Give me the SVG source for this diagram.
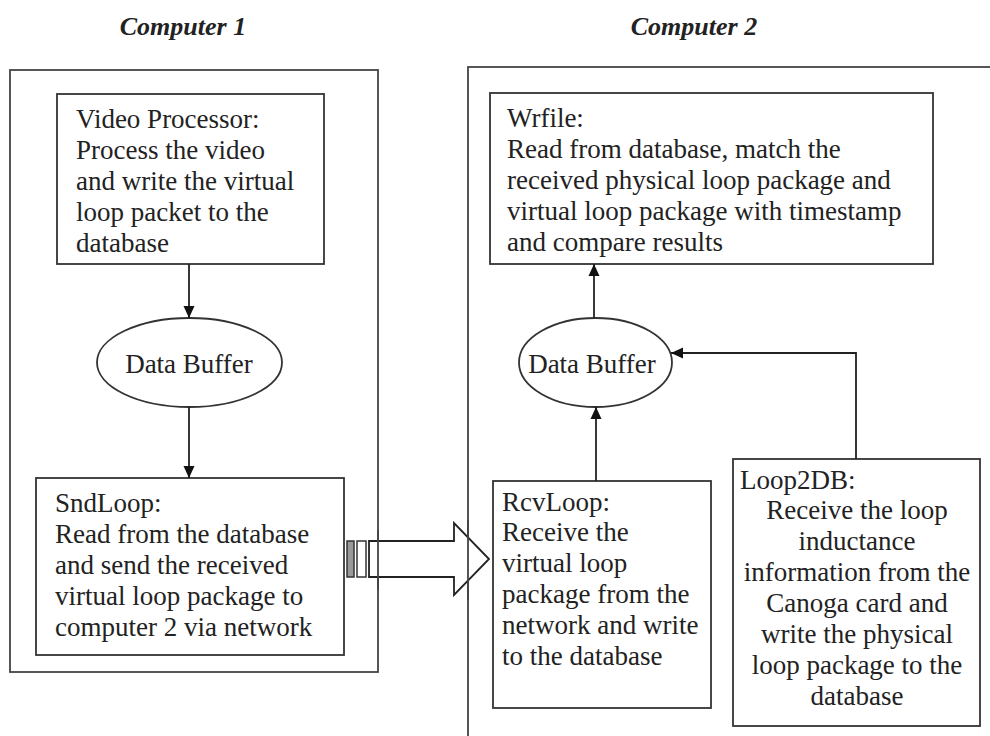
<svg xmlns="http://www.w3.org/2000/svg" width="990" height="736" viewBox="0 0 990 736">
<defs>
<marker id="ah" viewBox="0 0 12 12" refX="12" refY="6" markerWidth="12" markerHeight="13" markerUnits="userSpaceOnUse" orient="auto">
<path d="M0,0.5 L12,6 L0,11.5 Z" fill="#111"/>
</marker>
<style>
.box{fill:#fff;stroke:#333;stroke-width:1.8}
.frame{fill:none;stroke:#444;stroke-width:1.8}
.t{font-family:"Liberation Serif","Times New Roman",serif;font-size:27px;fill:#222}
.c{text-anchor:middle}
.title{font-family:"Liberation Serif","Times New Roman",serif;font-size:26px;font-weight:bold;font-style:italic;fill:#222;text-anchor:middle}
.ln{fill:none;stroke:#222;stroke-width:1.8;marker-end:url(#ah)}
</style>
</defs>
<rect width="990" height="736" fill="#fff"/>

<g id="computer1">
<text class="title" x="183" y="35">Computer 1</text>
<rect class="frame" x="10" y="70" width="368" height="602"/>
</g>
<g id="computer2">
<text class="title" x="694" y="35">Computer 2</text>
<rect class="frame" x="468" y="67" width="560" height="700"/>
</g>

<g id="video-processor">
<rect class="box" x="57" y="94" width="267" height="170"/>
<text class="t" x="76" y="128">Video Processor:</text>
<text class="t" x="76" y="159">Process the video</text>
<text class="t" x="76" y="190">and write the virtual</text>
<text class="t" x="76" y="221">loop packet to the</text>
<text class="t" x="76" y="252">database</text>
</g>

<g id="data-buffer-1">
<ellipse class="box" cx="189.5" cy="362.5" rx="92.5" ry="44.5"/>
<text class="t c" x="189" y="373">Data Buffer</text>
</g>

<g id="sndloop">
<rect class="box" x="36" y="478" width="308" height="177"/>
<text class="t" x="55" y="512">SndLoop:</text>
<text class="t" x="55" y="543">Read from the database</text>
<text class="t" x="55" y="574">and send the received</text>
<text class="t" x="55" y="605">virtual loop package to</text>
<text class="t" x="55" y="636">computer 2 via network</text>
</g>

<g id="wrfile">
<rect class="box" x="490" y="93" width="443" height="171"/>
<text class="t" x="507" y="127">Wrfile:</text>
<text class="t" x="507" y="158">Read from database, match the</text>
<text class="t" x="507" y="189">received physical loop package and</text>
<text class="t" x="507" y="220">virtual loop package with timestamp</text>
<text class="t" x="507" y="251">and compare results</text>
</g>

<g id="data-buffer-2">
<ellipse class="box" cx="595.5" cy="362.5" rx="76.5" ry="44.5"/>
<text class="t c" x="592" y="373">Data Buffer</text>
</g>

<g id="rcvloop">
<rect class="box" x="493" y="481" width="218" height="227"/>
<text class="t" x="502" y="511">RcvLoop:</text>
<text class="t" x="502" y="541">Receive the</text>
<text class="t" x="502" y="572">virtual loop</text>
<text class="t" x="502" y="603">package from the</text>
<text class="t" x="502" y="634">network and write</text>
<text class="t" x="502" y="665">to the database</text>
</g>

<g id="loop2db">
<rect class="box" x="733" y="459" width="247" height="267"/>
<text class="t" x="740" y="489">Loop2DB:</text>
<text class="t c" x="857" y="519">Receive the loop</text>
<text class="t c" x="857" y="550">inductance</text>
<text class="t c" x="857" y="581">information from the</text>
<text class="t c" x="857" y="612">Canoga card and</text>
<text class="t c" x="857" y="643">write the physical</text>
<text class="t c" x="857" y="674">loop package to the</text>
<text class="t c" x="857" y="705">database</text>
</g>

<g id="network-arrow">
<rect x="347" y="541" width="7" height="36" fill="#999" stroke="#333" stroke-width="1.5"/>
<rect x="357" y="541" width="9" height="36" fill="#fff" stroke="#333" stroke-width="1.5"/>
<path d="M369,541 L454,541 L454,523 L489,559 L454,595 L454,577 L369,577 Z" fill="#fff" stroke="#222" stroke-width="1.8" stroke-linejoin="miter"/>
<line x1="378" y1="530" x2="378" y2="590" stroke="#444" stroke-width="1.8"/>
<line x1="468" y1="520" x2="468" y2="600" stroke="#444" stroke-width="1.8"/>
</g>

<g id="connectors">
<path class="ln" d="M189,264 L189,318"/>
<path class="ln" d="M189,407 L189,478"/>
<path class="ln" d="M594,318 L594,264"/>
<path class="ln" d="M596,481 L596,407"/>
<path class="ln" d="M856,459 L856,353 L671,353"/>
</g>
</svg>
